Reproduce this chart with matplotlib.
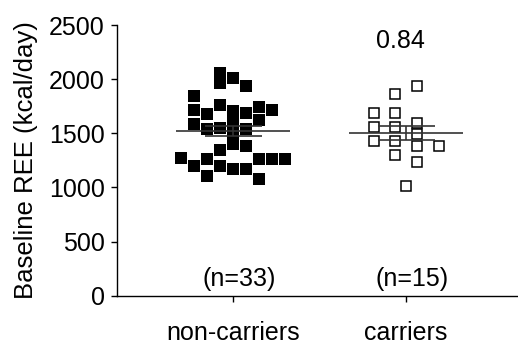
import numpy as np
from matplotlib import pyplot as plt

plt.rcParams['font.family'] = ['Liberation Sans', 'DejaVu Sans']

# values (kcal/day)
non_carriers = [2062, 1966, 2015, 1935, 1843, 1719, 1682, 1759, 1707, 1605, 1497,
                1398, 1691, 1744, 1719, 1627, 1590, 1543, 1552, 1543, 1386, 1349,
                1275, 1194, 1259, 1194, 1173, 1173, 1259, 1259, 1265, 1102, 1080]
non_carriers_jitter = [-1, -1, 0, 1, -3, -3, -2, -1, 0, 0, 0,
                       0, 1, 2, 3, 2, -3, -2, -1, 1, 1, -1,
                       -4, -3, -2, -1, 0, 1, 2, 3, 4, -2, 2]
carriers = [1941, 1861, 1691, 1688, 1559, 1559, 1599, 1429, 1429, 1491,
            1386, 1380, 1296, 1231, 1015]
carriers_jitter = [1, -1, -3, -1, -3, -1, 1, -3, -1, 1, 1, 3, -1, 1, 0]

categories = ['non-carriers', 'carriers']
means = [1521, 1503]
sem_upper = [1568, 1565]
sem_lower = [1472, 1442]
counts = ['(n=33)', '(n=15)']
p_value = '0.84'

fig = plt.figure(figsize=(5.18, 3.49), dpi=100)
ax = fig.add_axes([0.226, 0.153, 0.774, 0.775])

ax.plot(np.array(non_carriers_jitter) * 0.075, non_carriers, 's',
        color='black', markersize=8, markeredgewidth=0, zorder=3)
ax.plot(1 + np.array(carriers_jitter) * 0.0625, carriers, 's',
        markerfacecolor='none', markeredgecolor='black', markersize=7.6,
        markeredgewidth=1.1, zorder=3)

for i in range(2):
    ax.hlines(means[i], i - 0.33, i + 0.33, color='#333333', lw=1.2, zorder=4)
    ax.hlines([sem_upper[i], sem_lower[i]], i - 0.165, i + 0.165,
              color='#333333', lw=1.2, zorder=4)
    ax.vlines(i, sem_lower[i], sem_upper[i], color='#333333', lw=1.2, zorder=4)
    ax.text(i + 0.035, 150, counts[i], ha='center', va='center', fontsize=18)

ax.text(0.97, 2352, p_value, ha='center', va='center', fontsize=18)

ax.set_xlim(-0.671, 1.647)
ax.set_ylim(0, 2500)
ax.set_yticks([0, 500, 1000, 1500, 2000, 2500])
ax.set_xticks([0, 1])
ax.set_xticklabels(categories)
ax.tick_params(axis='both', labelsize=18, length=4, width=1, colors='black')
ax.tick_params(axis='x', pad=14)
ax.tick_params(axis='y', pad=5)
ax.set_ylabel('Baseline REE (kcal/day)', fontsize=18.5, labelpad=8)

for s in ['top', 'right']:
    ax.spines[s].set_visible(False)
for s in ['left', 'bottom']:
    ax.spines[s].set_linewidth(1)

plt.savefig('out.png', dpi=100)
